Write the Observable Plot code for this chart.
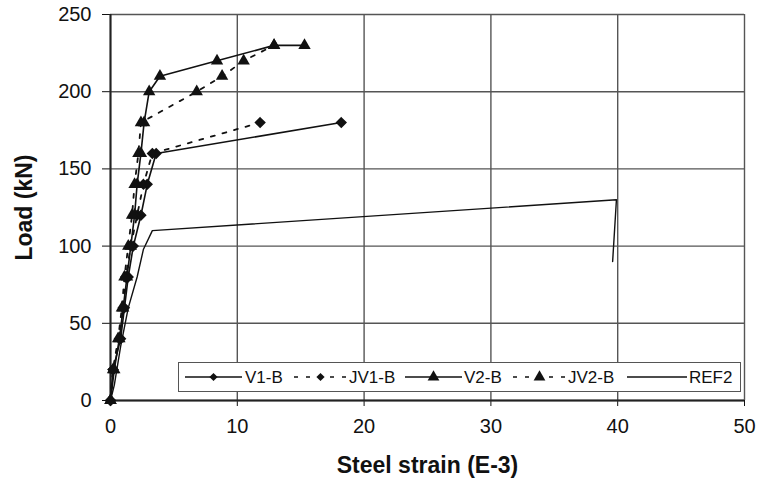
<!DOCTYPE html>
<html>
<head>
<meta charset="utf-8">
<script src="https://cdn.jsdelivr.net/npm/d3@7"></script>
<script src="https://cdn.jsdelivr.net/npm/@observablehq/plot@0.6"></script>
<style>
  body { margin: 0; background: #fff; }
  #wrap { position: relative; width: 765px; height: 482px; font-family: "Liberation Sans", Arial, sans-serif; }
  #wrap svg g[aria-label="x-axis label"] text, #wrap svg g[aria-label="y-axis label"] text { font-weight: bold; font-size: 23px; }
  #legend { position: absolute; left: 178px; top: 362px; width: 561px; height: 28px; border: 1.5px solid #555; background: #fff; }
</style>
</head>
<body>
<div id="wrap"></div>
<script>
// Series data (strain in E-3, load in kN)
const seriesNames = ["V1-B", "JV1-B", "V2-B", "JV2-B", "REF2"];

const v1bStrain = [0, 0.2, 0.8, 1.1, 1.4, 1.8, 2.4, 2.9, 3.6, 18.2];
const v1bLoad   = [0, 20, 40, 60, 80, 100, 120, 140, 160, 180];

const jv1bStrain = [0, 0.2, 0.7, 1.0, 1.2, 1.6, 2.1, 2.6, 3.3, 11.8];
const jv1bLoad   = [0, 20, 40, 60, 80, 100, 120, 140, 160, 180];

const v2bStrain = [0, 0.3, 0.7, 1.0, 1.3, 1.6, 1.9, 2.1, 2.4, 2.65, 3.05, 3.9, 8.4, 12.9, 15.3];
const v2bLoad   = [0, 20, 40, 60, 80, 100, 120, 140, 160, 180, 200, 210, 220, 230, 230];

const jv2bStrain = [0, 0.2, 0.6, 0.9, 1.1, 1.4, 1.7, 1.9, 2.2, 2.4, 6.8, 8.8, 10.5, 12.9];
const jv2bLoad   = [0, 20, 40, 60, 80, 100, 120, 140, 160, 180, 200, 210, 220, 230];

const ref2Strain = [0, 0.3, 0.8, 1.4, 2.1, 2.6, 3.3, 39.9, 39.6];
const ref2Load   = [0, 10, 35, 60, 80, 98, 110, 130, 90];

const xTicks = [0, 10, 20, 30, 40, 50];
const yTicks = [0, 50, 100, 150, 200, 250];

const toRows = (xs, ys) => xs.map((x, i) => ({x, y: ys[i]}));
const v1b = toRows(v1bStrain, v1bLoad);
const jv1b = toRows(jv1bStrain, jv1bLoad);
const v2b = toRows(v2bStrain, v2bLoad);
const jv2b = toRows(jv2bStrain, jv2bLoad);
const ref2 = toRows(ref2Strain, ref2Load);

const dash = "4,8";
const ink = "#111";

const chart = Plot.plot({
  width: 765,
  height: 482,
  marginLeft: 110,
  marginRight: 21,
  marginTop: 14,
  marginBottom: 82,
  style: {fontFamily: "'Liberation Sans', Arial, sans-serif", fontSize: "20px", color: "#111", background: "#fff"},
  x: {domain: [0, 50], ticks: xTicks, tickSize: 6, tickPadding: 12, label: "Steel strain (E-3)", labelArrow: "none", labelAnchor: "center", labelOffset: 72},
  y: {domain: [0, 250], ticks: yTicks, tickSize: 8, tickPadding: 11, label: "Load (kN)", labelArrow: "none", labelAnchor: "center", labelOffset: 95},
  marks: [
    Plot.gridX(xTicks, {stroke: "#555", strokeOpacity: 1, strokeWidth: 1.4}),
    Plot.gridY(yTicks, {stroke: "#555", strokeOpacity: 1, strokeWidth: 1.4}),
    Plot.ruleX([0], {stroke: "#222", strokeWidth: 2}),
    Plot.ruleY([0], {stroke: "#222", strokeWidth: 2}),
    Plot.line(ref2, {x: "x", y: "y", stroke: ink, strokeWidth: 1.4}),
    Plot.line(v1b, {x: "x", y: "y", stroke: ink, strokeWidth: 1.6}),
    Plot.line(jv1b, {x: "x", y: "y", stroke: ink, strokeWidth: 1.8, strokeDasharray: dash}),
    Plot.line(v2b, {x: "x", y: "y", stroke: ink, strokeWidth: 1.6}),
    Plot.line(jv2b, {x: "x", y: "y", stroke: ink, strokeWidth: 1.8, strokeDasharray: dash}),
    Plot.dot(v1b, {x: "x", y: "y", symbol: "diamond2", r: 4.2, fill: ink, stroke: ink}),
    Plot.dot(jv1b, {x: "x", y: "y", symbol: "diamond2", r: 4.2, fill: ink, stroke: ink}),
    Plot.dot(v2b, {x: "x", y: "y", symbol: "triangle", r: 4.6, fill: ink}),
    Plot.dot(jv2b, {x: "x", y: "y", symbol: "triangle", r: 4.6, fill: ink})
  ]
});
const wrap = document.getElementById("wrap");
wrap.appendChild(chart);

// Legend
const legendItems = [
  {name: seriesNames[0], dash: null, symbol: "d", x0: 6, x1: 63, tx: 66},
  {name: seriesNames[1], dash: dash, symbol: "d", x0: 115, x1: 168, tx: 170},
  {name: seriesNames[2], dash: null, symbol: "t", x0: 226, x1: 283, tx: 285},
  {name: seriesNames[3], dash: dash, symbol: "t", x0: 334, x1: 387, tx: 389},
  {name: seriesNames[4], dash: null, symbol: null, x0: 448, x1: 508, tx: 510}
];
const leg = document.createElement("div");
leg.id = "legend";
wrap.appendChild(leg);
const lsvg = d3.select(leg).append("svg").attr("width", 561).attr("height", 28)
  .style("font-family", "'Liberation Sans', Arial, sans-serif").style("font-size", "17px");
for (const it of legendItems) {
  const g = lsvg.append("g");
  g.append("line").attr("x1", it.x0).attr("x2", it.x1).attr("y1", 14).attr("y2", 14)
    .attr("stroke", ink).attr("stroke-width", 1.6).attr("stroke-dasharray", it.dash);
  if (it.symbol === "t") {
    g.append("path").attr("d", d3.symbol(d3.symbolTriangle, 60)())
      .attr("transform", `translate(${(it.x0 + it.x1) / 2},14)`).attr("fill", ink);
  } else if (it.symbol === "d") {
    g.append("path").attr("d", d3.symbol(d3.symbolSquare, 34)())
      .attr("transform", `translate(${(it.x0 + it.x1) / 2},14) rotate(45)`).attr("fill", ink);
  }
  g.append("text").attr("x", it.tx).attr("y", 20).attr("fill", "#111").text(it.name);
}
</script>
</body>
</html>
